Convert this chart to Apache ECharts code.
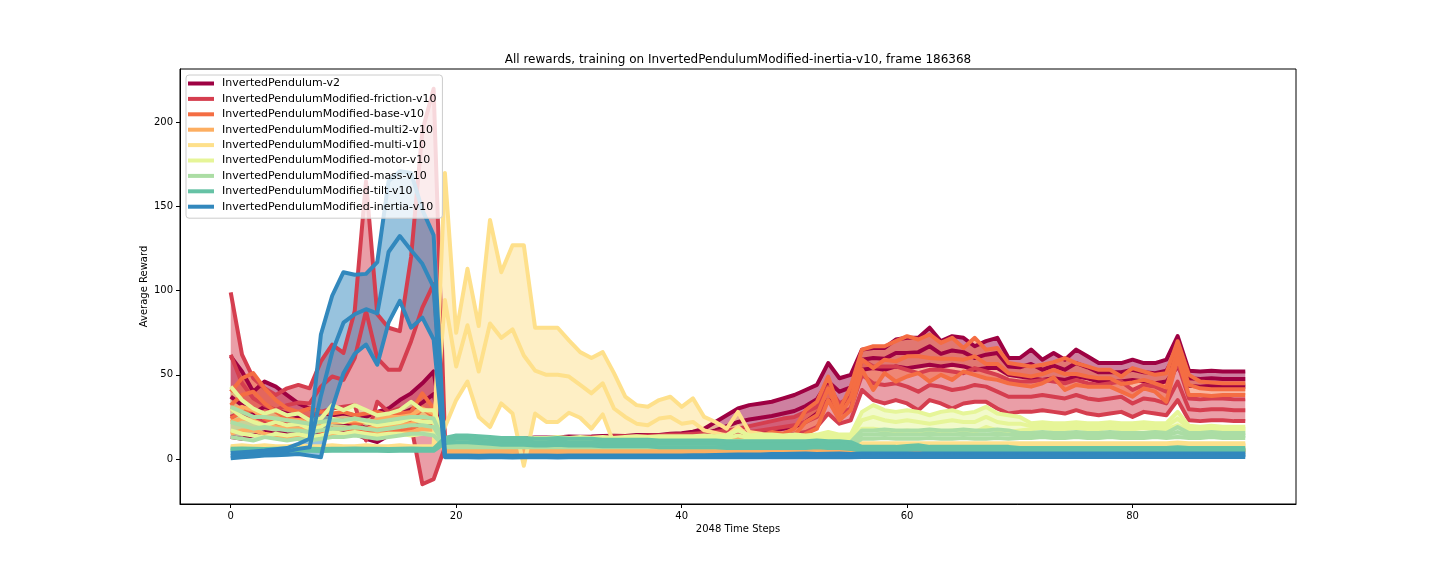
<!DOCTYPE html>
<html>
<head>
<meta charset="utf-8">
<script src="https://cdn.jsdelivr.net/npm/echarts@6/dist/echarts.min.js"></script>
<style>
  html, body { margin: 0; padding: 0; background: #fff; }
  #chart { width: 1440px; height: 576px; }
</style>
</head>
<body>
<div id="chart"></div>
<script>
// mean and std of the average reward, one value per 2048-step frame (0..90)
var v2Mean = [37, 32, 27, 31, 29, 27, 25, 23.5, 22, 22,
  21.5, 20.5, 18.5, 19, 22, 26.5, 29.5, 33.5, 38.5, 9,
  10, 10, 10.5, 10.5, 11, 11, 11, 11.5, 11.5, 11.5,
  12, 12, 12, 12.5, 12.5, 12.5, 13, 13, 13, 13.5,
  13.5, 14, 15, 17, 19.5, 22, 23.5, 24.5, 25.5, 27,
  28.5, 31.5, 35.5, 46, 40, 42.5, 59, 60, 59.5, 63,
  63, 63.5, 67, 62.5, 64.5, 63.5, 60, 62, 63, 55,
  54.5, 56.5, 53, 55.5, 53, 57, 54.5, 51.5, 51.5, 51.5,
  53, 51.5, 51, 52.5, 64, 48, 47.5, 48, 47.5, 47.5,
  47.5];
var v2Std = [24, 20, 13, 15, 14, 11, 8, 6.5, 6, 4,
  5.5, 5.5, 6.5, 9, 8, 8.5, 9.5, 11.5, 13.5, 1.5,
  1.2, 1.2, 1.3, 1.2, 1.3, 1.2, 1.3, 1.2, 1.3, 1.2,
  1.3, 1.2, 1.3, 1.2, 1.3, 1.2, 1.3, 1.2, 1.3, 1.5,
  1.8, 2.2, 3, 5, 6.5, 8, 8.5, 8.5, 8.5, 9,
  9.5, 9.5, 8.5, 11, 8, 7.5, 6, 6, 6.5, 8,
  9, 8.5, 11, 7.5, 8.5, 8.5, 7, 8, 9, 5,
  5.5, 8.5, 6, 7.5, 6, 8, 6.5, 5.5, 5.5, 5.5,
  6, 5.5, 6, 6.5, 9, 4.5, 4.5, 4.5, 4.5, 4.5,
  4.5];

var frictionMean = [62, 45, 36, 32, 29, 32, 33.5, 33, 43, 49,
  47, 60, 88, 60, 53, 53, 70, 90, 104, 10,
  9, 9, 9.5, 9.5, 10, 10, 10, 10.5, 10.5, 11,
  11, 11, 11.5, 11.5, 12, 12, 12, 12.5, 12.5, 13,
  13, 13.5, 13.5, 14, 14.5, 15, 16, 17, 18, 19,
  20, 22, 25, 35, 27, 30, 50, 45, 44, 45,
  43, 40, 44, 43, 41, 42, 44, 43, 40, 37,
  37, 37, 38, 37, 36, 38, 36, 35, 36, 37,
  33, 36, 35, 33, 46, 29.5, 29, 29.5, 29.5, 29,
  29];
var frictionStd = [37, 17, 12, 10, 9, 10, 10.5, 9, 15, 19,
  16, 28, 77, 26, 25, 23, 50, 105, 116, 3,
  1.5, 1.5, 1.5, 1.5, 1.5, 1.5, 1.5, 1.5, 1.5, 1.5,
  1.5, 1.5, 1.5, 1.5, 1.5, 1.5, 1.5, 1.5, 1.5, 1.5,
  1.5, 1.5, 2, 2, 2.5, 3, 3.5, 4, 4.5, 5,
  5, 6, 6, 8, 6, 7, 9, 10, 11, 10,
  10, 11, 9, 10, 11, 9, 10, 9, 10, 10,
  9, 9, 9, 9, 9, 9, 9, 9, 9, 9,
  8, 8, 8, 7, 11, 6.5, 6.5, 6.5, 6.5, 6.5,
  6.5];

var baseMean = [32, 38, 40, 33, 28, 24, 23, 24, 22, 22,
  23, 21, 22, 22, 21, 22, 23, 30, 25, 8,
  8, 8, 8, 8, 8, 8, 8.5, 8.5, 8.5, 8.5,
  8.5, 8.5, 9, 9, 9, 9, 9, 9, 9.5, 9.5,
  9.5, 9.5, 10, 10, 10, 10, 11, 12, 13, 12,
  14, 22, 26, 42, 26, 36, 59, 54, 59, 58,
  61, 61, 60, 59.5, 59.5, 59, 61, 56.5, 56.5, 51,
  50, 49, 50.5, 53, 50.5, 50.5, 49, 48, 48, 44.5,
  45.5, 47, 45, 42.5, 65, 44, 42, 41.5, 41.5, 41.5,
  41.5];
var baseStd = [8, 10, 11, 9, 7, 6, 5, 6, 6, 5,
  5, 5, 5, 6, 5, 5, 5, 9, 5, 1.5,
  1.5, 1.5, 1.5, 1.5, 1.5, 1.5, 1.5, 1.5, 1.5, 1.5,
  1.5, 1.5, 1.5, 1.5, 1.5, 1.5, 1.5, 1.5, 1.5, 1.5,
  1.5, 1.5, 1.5, 1.5, 2, 2, 2, 2, 3, 3,
  4, 7, 8, 7, 3, 7, 6, 13, 8, 12,
  12, 10, 14, 9.5, 12.5, 7, 11, 8.5, 9.5, 6,
  6, 6, 5.5, 4.5, 9.5, 6.5, 6, 5, 5, 4.5,
  8.5, 5, 5, 8.5, 5, 6, 4, 4, 3.5, 3.5,
  3.5];

var multi2Mean = [22, 24, 23, 20, 19, 18, 18, 17, 17, 18,
  18, 19, 18, 19, 20, 20, 21, 24, 22, 5,
  5, 5, 5, 5, 5, 4.5, 4.5, 4.5, 4.5, 4.5,
  4.5, 4.5, 4.5, 4.5, 4.5, 4.5, 4.5, 4.5, 4.5, 4.5,
  4.5, 4.5, 4.5, 4.5, 4.5, 4.5, 4.5, 4.5, 4.5, 4.5,
  4.5, 4.5, 5, 5, 5, 5, 5, 5, 5, 5,
  5, 5, 5, 5, 5, 5, 5, 5, 5, 5,
  5, 5, 5, 5, 5, 5, 5, 5, 5, 5,
  5, 5, 5, 5, 5.5, 5, 5, 5, 5, 5,
  5];
var multi2Std = [7, 7, 6, 5, 5, 5, 5, 4, 4, 4,
  4, 4, 4, 4, 5, 5, 5, 6, 5, 0.8,
  0.8, 0.8, 0.8, 0.8, 0.8, 0.8, 0.8, 0.8, 0.8, 0.8,
  0.8, 0.8, 0.8, 0.8, 0.8, 0.8, 0.8, 0.8, 0.8, 0.8,
  0.8, 0.8, 0.8, 0.8, 0.8, 0.8, 0.8, 0.8, 0.8, 0.8,
  0.8, 0.8, 0.8, 0.8, 0.8, 0.8, 0.8, 0.8, 0.8, 0.8,
  0.8, 0.8, 0.8, 0.8, 0.8, 0.8, 0.8, 0.8, 0.8, 0.8,
  0.8, 0.8, 0.8, 0.8, 0.8, 0.8, 0.8, 0.8, 0.8, 0.8,
  0.8, 0.8, 0.8, 0.8, 0.8, 0.8, 0.8, 0.8, 0.8, 0.8,
  0.8];

var multiMean = [7, 7.5, 7, 7.5, 7, 7, 7.5, 7, 7, 7.5,
  7, 7, 7.5, 7, 7, 7.5, 7, 7, 7, 94.5,
  55, 79.5, 52, 80.5, 72, 77, 61.5, 52.5, 50, 50,
  49, 44, 39, 45, 30, 25, 21, 20, 24, 25,
  21, 22, 17, 15.5, 14, 19, 13, 12, 11, 11,
  10, 10, 9.5, 9, 9, 8.5, 8.5, 8.5, 8.5, 8.5,
  8.5, 8.5, 8.5, 8.5, 8.5, 8.5, 8.5, 8.5, 8.5, 8.5,
  8.5, 8.5, 8.5, 8.5, 8.5, 8.5, 8.5, 8.5, 8.5, 8.5,
  8.5, 8.5, 8.5, 8.5, 9, 8.5, 8.5, 8.5, 8.5, 8.5,
  8.5];
var multiStd = [0.6, 0.6, 0.6, 0.6, 0.6, 0.6, 0.6, 0.6, 0.6, 0.6,
  0.6, 0.6, 0.6, 0.6, 0.6, 0.6, 0.6, 0.6, 0.6, 75.5,
  20, 33.5, 27, 61.5, 39, 50, 65.5, 25.5, 28, 28,
  21.5, 19.5, 21, 18.5, 21, 12, 11, 11, 11, 12,
  10, 14, 8, 6.5, 4, 9, 3, 3, 2, 2,
  2, 1.5, 1.5, 1.5, 1.5, 1.5, 0.8, 0.8, 0.8, 0.8,
  0.8, 0.8, 0.8, 0.8, 0.8, 0.8, 0.8, 0.8, 0.8, 0.8,
  0.8, 0.8, 0.8, 0.8, 0.8, 0.8, 0.8, 0.8, 0.8, 0.8,
  0.8, 0.8, 0.8, 0.8, 0.8, 0.8, 0.8, 0.8, 0.8, 0.8,
  0.8];

var motorMean = [30, 25, 22, 20, 22, 20, 21, 18, 19, 24,
  22, 24, 22, 20, 21, 22, 24, 22, 22, 10,
  10.5, 11, 11, 10.5, 11, 11, 10.5, 11, 11, 11.5,
  11, 11.5, 11, 11.5, 11, 11.5, 12, 11.5, 12, 12,
  12, 12, 12.5, 12, 12.5, 14, 12.5, 13, 13, 12.5,
  13, 12.5, 13, 14, 13, 13, 23, 25, 23, 22,
  23, 22, 21, 22, 23, 22, 22, 25, 22, 21,
  21, 19.5, 20, 19.5, 19.5, 20, 19.5, 19.5, 20, 19.5,
  19.5, 20, 19.5, 19.5, 24, 18.5, 18, 18.5, 18, 18,
  18];
var motorStd = [13, 10, 8, 7, 7, 6, 6, 5, 5, 8,
  7, 8, 7, 6, 6, 7, 10, 7, 7, 2,
  1.5, 1.5, 1.5, 1.5, 1.5, 1.5, 1.5, 1.5, 1.5, 1.5,
  1.5, 1.5, 1.5, 1.5, 1.5, 1.5, 1.5, 1.5, 1.5, 1.5,
  1.5, 1.5, 1.5, 1.5, 1.5, 3, 1.5, 1.5, 1.5, 1.5,
  1.5, 1.5, 1.5, 2, 1.5, 1.5, 5, 7, 6, 6,
  6, 6, 5, 6, 6, 5, 6, 6, 5, 5,
  4, 1.8, 1.8, 1.8, 1.8, 1.8, 1.8, 1.8, 1.8, 1.8,
  1.8, 1.8, 1.8, 1.8, 4, 1.2, 1.2, 1.2, 1.2, 1.2,
  1.2];

var massMean = [22, 20, 18, 19, 18, 17, 17, 16, 17, 18,
  18, 19, 18, 17, 18, 19, 20, 20, 19, 8,
  8, 8, 8, 8, 8, 8, 8, 8, 8, 8,
  8, 8, 8, 8, 8, 8, 8, 8, 8, 8,
  8, 8, 8, 8, 8, 8.5, 8.5, 8.5, 8.5, 8.5,
  8.5, 8.5, 9, 9, 9, 9, 14.5, 14.5, 15, 14.5,
  14.5, 14.5, 15, 14.5, 14.5, 15, 14.5, 14.5, 15, 14.5,
  14, 14, 14.5, 14, 14, 14.5, 14, 14, 14.5, 14,
  14, 14, 14.5, 14, 16, 14, 14, 14.5, 14, 14,
  14];
var massStd = [9, 8, 7, 6, 6, 6, 5, 5, 5, 5,
  5, 5, 5, 5, 5, 5, 5, 5, 5, 1,
  1, 1, 1, 1, 1, 1, 1, 1, 1, 1,
  1, 1, 1, 1, 1, 1, 1, 1, 1, 1,
  1, 1, 1, 1, 1, 1, 1, 1, 1, 1,
  1, 1, 1, 1, 1, 1, 2.5, 2.5, 2.5, 2.5,
  2.5, 2.5, 2.5, 2.5, 2.5, 2.5, 2.5, 2.5, 2.5, 2.5,
  1.5, 1.5, 1.5, 1.5, 1.5, 1.5, 1.5, 1.5, 1.5, 1.5,
  1.5, 1.5, 1.5, 1.5, 3, 1.5, 1.5, 1.5, 1.5, 1.5,
  1.5];

var tiltMean = [5.5, 5.6, 5.5, 5.4, 5.5, 5.6, 5.5, 5.5, 5.4, 5.5,
  5.5, 5.6, 5.5, 5.5, 5.4, 5.5, 5.6, 5.5, 5.5, 11,
  12, 12, 11.5, 11, 10.5, 10.5, 10.5, 10, 10, 10.5,
  10, 10, 10, 9.5, 9.5, 9.5, 9.5, 9.5, 9, 9,
  9, 9, 9, 9, 8.5, 8.5, 8.5, 8.5, 8.5, 8.5,
  8.5, 8.5, 9, 8.5, 8.5, 8, 6, 6, 6, 6,
  6.5, 7, 6, 6, 6, 6, 6, 6, 6, 6,
  5.5, 5.5, 5.5, 5.5, 5.5, 5.5, 5.5, 5.5, 5.5, 5.5,
  5.5, 5.5, 5.5, 5.5, 6, 5.5, 5.5, 5.5, 5.5, 5.5,
  5.5];
var tiltStd = [0.6, 0.6, 0.6, 0.6, 0.6, 0.6, 0.6, 0.6, 0.6, 0.6,
  0.6, 0.6, 0.6, 0.6, 0.6, 0.6, 0.6, 0.6, 0.6, 1.5,
  2, 2, 2, 2, 2, 2, 2, 2, 2, 2,
  2, 2, 2, 2, 2, 2, 2, 2, 2, 2,
  2, 2, 2, 2, 2, 2, 2, 2, 2, 2,
  2, 2, 2, 2, 2, 2, 1.2, 1.2, 1.2, 1.2,
  1.2, 1.2, 1.2, 1.2, 1.2, 1.2, 1.2, 1.2, 1.2, 1.2,
  1, 1, 1, 1, 1, 1, 1, 1, 1, 1,
  1, 1, 1, 1, 1, 1, 1, 1, 1, 1,
  1];

var inertiaMean = [2, 2.5, 3, 3.5, 4, 4.5, 6, 7, 37.5, 63.5,
  81, 86, 89, 86.5, 123, 132.5, 124, 116, 102, 1.6,
  1.5, 1.5, 1.4, 1.5, 1.5, 1.4, 1.5, 1.5, 1.5, 1.4,
  1.5, 1.6, 1.5, 1.5, 1.6, 1.5, 1.5, 1.6, 1.5, 1.6,
  1.6, 1.7, 1.6, 1.7, 1.8, 1.9, 1.8, 1.9, 2, 2,
  2.1, 2.2, 2, 2.1, 2.2, 2, 2.2, 2.3, 2.2, 2.3,
  2.2, 2.3, 2.2, 2.3, 2.2, 2.3, 2.2, 2.3, 2.2, 2.3,
  2.2, 2.3, 2.2, 2.3, 2.2, 2.3, 2.2, 2.3, 2.2, 2.3,
  2.2, 2.3, 2.2, 2.3, 2.2, 2.3, 2.2, 2.3, 2.2, 2.3,
  2.2];
var inertiaStd = [1.5, 1.5, 1.5, 1.5, 1.8, 2, 3, 5, 36.5, 33.5,
  30, 23.5, 21, 30.5, 42, 38.5, 46, 32, 31, 0.5,
  0.5, 0.5, 0.5, 0.5, 0.5, 0.5, 0.5, 0.5, 0.5, 0.5,
  0.5, 0.5, 0.5, 0.5, 0.5, 0.5, 0.5, 0.5, 0.5, 0.5,
  0.5, 0.5, 0.6, 0.6, 0.7, 0.7, 0.8, 0.8, 0.9, 0.9,
  1, 1, 1, 1, 1, 1, 1, 1, 1, 1,
  1, 1, 1, 1, 1, 1, 1, 1, 1, 1,
  1, 1, 1, 1, 1, 1, 1, 1, 1, 1,
  1, 1, 1, 1, 1, 1, 1, 1, 1, 1,
  1];

var envNames = ['InvertedPendulum-v2', 'InvertedPendulumModified-friction-v10',
  'InvertedPendulumModified-base-v10', 'InvertedPendulumModified-multi2-v10',
  'InvertedPendulumModified-multi-v10', 'InvertedPendulumModified-motor-v10',
  'InvertedPendulumModified-mass-v10', 'InvertedPendulumModified-tilt-v10',
  'InvertedPendulumModified-inertia-v10'];
var envColors = ['#9e0142', '#d53e4f', '#f46d43', '#fdae61', '#fee08b',
  '#e6f598', '#abdda4', '#66c2a5', '#3288bd'];
var envMeans = [v2Mean, frictionMean, baseMean, multi2Mean, multiMean,
  motorMean, massMean, tiltMean, inertiaMean];
var envStds = [v2Std, frictionStd, baseStd, multi2Std, multiStd,
  motorStd, massStd, tiltStd, inertiaStd];

var xTicks = [0, 20, 40, 60, 80];
var yTicks = [0, 50, 100, 150, 200];
var steps = v2Mean.map(function (_, i) { return i; });

var dom = document.getElementById('chart');
var myChart = echarts.init(dom, null, { renderer: 'canvas' });

function shifted(mean, std, sign) {
    return mean.map(function (m, i) { return m + sign * std[i]; });
}
function pairs(vals) {
    return vals.map(function (v, i) { return [steps[i], v]; });
}

var series = [];
var lowAll = Infinity, highAll = -Infinity;

// fills first (matplotlib draws collections under lines)
envNames.forEach(function (name, k) {
    var hi = shifted(envMeans[k], envStds[k], 1);
    var lo = shifted(envMeans[k], envStds[k], -1);
    lowAll = Math.min(lowAll, Math.min.apply(null, lo));
    highAll = Math.max(highAll, Math.max.apply(null, hi));
    series.push({
        type: 'custom',
        name: name + ' band',
        silent: true,
        z: 1,
        data: [[0, 0]],
        renderItem: function (params, api) {
            var pts = [];
            for (var i = 0; i < steps.length; i++) pts.push(api.coord([steps[i], hi[i]]));
            for (var j = steps.length - 1; j >= 0; j--) pts.push(api.coord([steps[j], lo[j]]));
            return {
                type: 'polygon',
                shape: { points: pts },
                style: { fill: envColors[k], opacity: 0.5 }
            };
        }
    });
});

envNames.forEach(function (name, k) {
    var parts = [
        { n: name + ' upper', v: shifted(envMeans[k], envStds[k], 1) },
        { n: name, v: envMeans[k] },
        { n: name + ' lower', v: shifted(envMeans[k], envStds[k], -1) }
    ];
    parts.forEach(function (p) {
        series.push({
            type: 'line',
            name: p.n,
            data: pairs(p.v),
            z: 2,
            symbol: 'none',
            showSymbol: false,
            silent: true,
            itemStyle: { color: envColors[k] },
            lineStyle: { color: envColors[k], width: 4, join: 'round', cap: 'butt' }
        });
    });
});

var yPad = 0.05 * (highAll - lowAll);
var xPad = 0.05 * (steps[steps.length - 1] - steps[0]);

var option = {
    animation: false,
    backgroundColor: '#ffffff',
    textStyle: { fontFamily: 'DejaVu Sans', color: '#000' },
    title: {
        text: 'All rewards, training on InvertedPendulumModified-inertia-v10, frame 186368',
        left: 738,
        top: 54,
        padding: 0,
        textAlign: 'center',
        textStyle: { fontFamily: 'DejaVu Sans', fontSize: 12, fontWeight: 'normal', color: '#000' }
    },
    grid: {
        left: 180, top: 69, width: 1116, height: 435,
        show: true, borderColor: '#000', borderWidth: 1, backgroundColor: 'transparent'
    },
    legend: {
        data: envNames,
        orient: 'vertical',
        left: 186,
        top: 75,
        z: 20,
        selectedMode: false,
        icon: 'rect',
        itemWidth: 26,
        itemHeight: 4,
        itemGap: 2.4,
        padding: [2, 6, 5, 2],
        backgroundColor: 'rgba(255,255,255,0.8)',
        borderColor: '#cccccc',
        borderWidth: 1,
        borderRadius: 3,
        textStyle: {
            fontFamily: 'DejaVu Sans', fontSize: 11, color: '#000',
            lineHeight: 13, padding: [0, 0, 0, 3]
        }
    },
    xAxis: {
        type: 'value',
        min: steps[0] - xPad,
        max: steps[steps.length - 1] + xPad,
        name: '2048 Time Steps',
        nameLocation: 'middle',
        nameGap: 20,
        nameMoveOverlap: false,
        nameTextStyle: { fontFamily: 'DejaVu Sans', fontSize: 10, color: '#000' },
        splitLine: { show: false },
        axisLine: { show: true, onZero: false, lineStyle: { color: '#000', width: 1 } },
        axisTick: { show: true, inside: false, length: 4, customValues: xTicks, lineStyle: { color: '#000' } },
        axisLabel: { customValues: xTicks, margin: 7, fontSize: 10, color: '#000', fontFamily: 'DejaVu Sans' }
    },
    yAxis: {
        type: 'value',
        min: lowAll - yPad,
        max: highAll + yPad,
        name: 'Average Reward',
        nameLocation: 'middle',
        nameRotate: 90,
        nameGap: 31,
        nameMoveOverlap: false,
        nameTextStyle: { fontFamily: 'DejaVu Sans', fontSize: 10, color: '#000' },
        splitLine: { show: false },
        axisLine: { show: true, onZero: false, lineStyle: { color: '#000', width: 1 } },
        axisTick: { show: true, inside: false, length: 4, customValues: yTicks, lineStyle: { color: '#000' } },
        axisLabel: { customValues: yTicks, margin: 7, fontSize: 10, color: '#000', fontFamily: 'DejaVu Sans' }
    },
    series: series
};

myChart.setOption(option);
window.addEventListener('resize', myChart.resize);
</script>
</body>
</html>
